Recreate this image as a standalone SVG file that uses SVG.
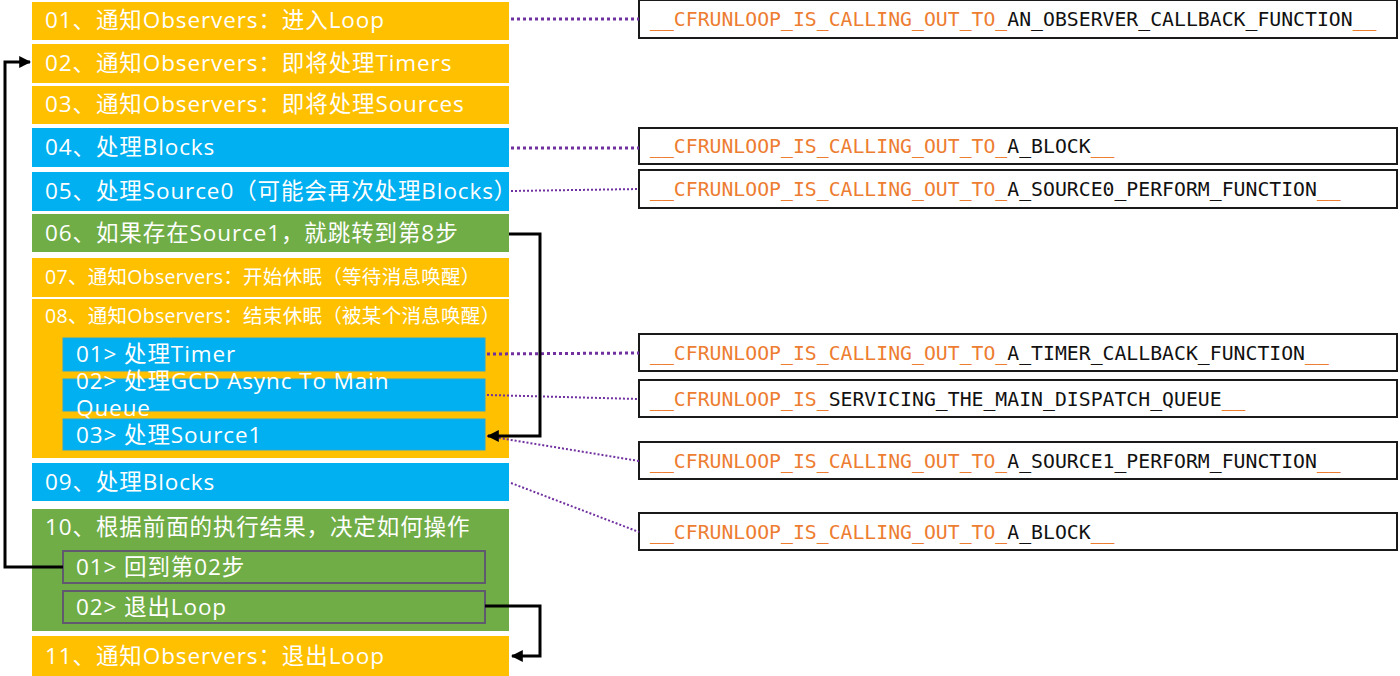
<svg xmlns="http://www.w3.org/2000/svg" width="1400" height="676" viewBox="0 0 1400 676">
<defs>
<style>
.y{fill:#FFC000}
.b{fill:#00B0F0}
.g{fill:#70AD47}
.ib{fill:#00B0F0;stroke:#2BA7D8;stroke-width:1}
.ig{fill:#70AD47;stroke:#5F5A6E;stroke-width:2}
.t{font-family:"Open Sans","Noto Sans CJK SC",sans-serif;font-size:22.5px;letter-spacing:0.9px;fill:#FFFFFF}
.ts{font-family:"Open Sans","Noto Sans CJK SC",sans-serif;font-size:19.5px;letter-spacing:0.3px;fill:#FFFFFF}
.fb{fill:#FFFFFF;stroke:#1A1A1A;stroke-width:2}
.m{font-family:"DejaVu Sans Mono","Liberation Mono",monospace;font-size:19.8px;fill:#111111}
.o{fill:#ED7D31}
.dt{fill:none;stroke:#7030A0;stroke-width:3;stroke-dasharray:3 3}
.dn{fill:none;stroke:#7030A0;stroke-width:2;stroke-dasharray:2 2}
.k{fill:none;stroke:#000000;stroke-width:3}
</style>
<marker id="ah" viewBox="0 0 10 10" refX="9" refY="5" markerWidth="4" markerHeight="4" orient="auto" markerUnits="strokeWidth">
<path d="M0,0 L10,5 L0,10 z" fill="#000000"/>
</marker>
</defs>
<rect width="1400" height="676" fill="#FFFFFF"/>

<g id="step01"><rect class="y" x="32" y="2" width="477" height="38"/><text class="t" x="45" y="28">01、通知Observers：进入Loop</text></g>
<g id="step02"><rect class="y" x="32" y="44" width="477" height="39"/><text class="t" x="45" y="71">02、通知Observers：即将处理Timers</text></g>
<g id="step03"><rect class="y" x="32" y="86" width="477" height="38"/><text class="t" x="45" y="112">03、通知Observers：即将处理Sources</text></g>
<g id="step04"><rect class="b" x="32" y="128" width="477" height="39"/><text class="t" x="45" y="155">04、处理Blocks</text></g>
<g id="step05"><rect class="b" x="32" y="172" width="477" height="39"/><text class="t" x="45" y="199">05、处理Source0（可能会再次处理Blocks）</text></g>
<g id="step06"><rect class="g" x="32" y="214" width="477" height="38"/><text class="t" x="45" y="241">06、如果存在Source1，就跳转到第8步</text></g>
<g id="step07"><rect class="y" x="32" y="258" width="477" height="39"/><text class="ts" x="45" y="284">07、通知Observers：开始休眠（等待消息唤醒）</text></g>
<g id="step08"><rect class="y" x="32" y="299" width="477" height="159"/><text class="ts" x="45" y="323">08、通知Observers：结束休眠（被某个消息唤醒）</text></g>
<g id="step08-1"><rect class="ib" x="63" y="338" width="422" height="33"/><text class="t" x="76" y="362">01&gt; 处理Timer</text></g>
<g id="step08-2"><rect class="ib" x="63" y="379" width="422" height="32"/><text class="t" x="76" y="389">02&gt; 处理GCD Async To Main</text><text class="t" x="76" y="416">Queue</text></g>
<g id="step08-3"><rect class="ib" x="63" y="419" width="422" height="31"/><text class="t" x="76" y="443">03&gt; 处理Source1</text></g>
<g id="step09"><rect class="b" x="32" y="463" width="477" height="38"/><text class="t" x="45" y="490">09、处理Blocks</text></g>
<g id="step10"><rect class="g" x="32" y="509" width="477" height="122"/><text class="t" x="45" y="535">10、根据前面的执行结果，决定如何操作</text></g>
<g id="step10-1"><rect class="ig" x="63" y="551" width="422" height="32"/><text class="t" x="76" y="575">01&gt; 回到第02步</text></g>
<g id="step10-2"><rect class="ig" x="63" y="591" width="422" height="32"/><text class="t" x="76" y="615">02&gt; 退出Loop</text></g>
<g id="step11"><rect class="y" x="32" y="636" width="477" height="40"/><text class="t" x="45" y="664">11、通知Observers：退出Loop</text></g>

<g id="fn1"><rect class="fb" x="639" y="0" width="758" height="38"/><text class="m" x="650" y="26"><tspan class="o">__CFRUNLOOP_IS_CALLING_OUT_TO_</tspan>AN_OBSERVER_CALLBACK_FUNCTION<tspan class="o">__</tspan></text></g>
<g id="fn2"><rect class="fb" x="639" y="128" width="758" height="36"/><text class="m" x="650" y="153"><tspan class="o">__CFRUNLOOP_IS_CALLING_OUT_TO_</tspan>A_BLOCK<tspan class="o">__</tspan></text></g>
<g id="fn3"><rect class="fb" x="639" y="170" width="758" height="38"/><text class="m" x="650" y="196"><tspan class="o">__CFRUNLOOP_IS_CALLING_OUT_TO_</tspan>A_SOURCE0_PERFORM_FUNCTION<tspan class="o">__</tspan></text></g>
<g id="fn4"><rect class="fb" x="639" y="334" width="758" height="37"/><text class="m" x="650" y="360"><tspan class="o">__CFRUNLOOP_IS_CALLING_OUT_TO_</tspan>A_TIMER_CALLBACK_FUNCTION<tspan class="o">__</tspan></text></g>
<g id="fn5"><rect class="fb" x="639" y="380" width="758" height="37"/><text class="m" x="650" y="406"><tspan class="o">__CFRUNLOOP_IS_</tspan>SERVICING_THE_MAIN_DISPATCH_QUEUE<tspan class="o">__</tspan></text></g>
<g id="fn6"><rect class="fb" x="639" y="442" width="758" height="37"/><text class="m" x="650" y="468"><tspan class="o">__CFRUNLOOP_IS_CALLING_OUT_TO_</tspan>A_SOURCE1_PERFORM_FUNCTION<tspan class="o">__</tspan></text></g>
<g id="fn7"><rect class="fb" x="639" y="513" width="758" height="37"/><text class="m" x="650" y="539"><tspan class="o">__CFRUNLOOP_IS_CALLING_OUT_TO_</tspan>A_BLOCK<tspan class="o">__</tspan></text></g>

<g id="connectors">
<line class="dt" x1="511" y1="19" x2="639" y2="19"/>
<line class="dt" x1="511" y1="148" x2="639" y2="148"/>
<line class="dn" x1="511" y1="191" x2="639" y2="189"/>
<line class="dt" x1="487" y1="354" x2="639" y2="353"/>
<line class="dn" x1="487" y1="395" x2="639" y2="399"/>
<line class="dn" x1="487" y1="436" x2="639" y2="461"/>
<line class="dn" x1="511" y1="483" x2="639" y2="532"/>
<polyline class="k" points="509,234 540,234 540,436 488,436" marker-end="url(#ah)"/>
<polyline class="k" points="63,567 5,567 5,62 30,62" marker-end="url(#ah)"/>
<polyline class="k" points="485,606 540,606 540,656 512,656" marker-end="url(#ah)"/>
</g>
</svg>
